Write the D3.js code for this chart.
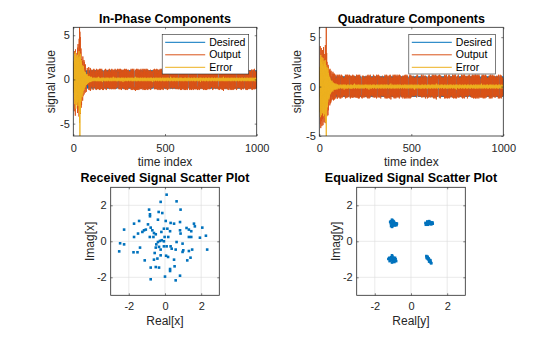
<!DOCTYPE html>
<html>
<head>
<meta charset="utf-8">
<script src="https://cdn.jsdelivr.net/npm/d3@7"></script>
<style>
  body { margin: 0; background: #fff; }
  text { font-family: "Liberation Sans", Arial, Helvetica, sans-serif; fill: #262626; }
</style>
</head>
<body>
<svg id="fig" width="560" height="337"></svg>
<script>
// ---- data ----
const timeDomain = [0, 1000]
const timeTicks = [0, 500, 1000]
const valueTicks = [-5, 0, 5]
const scatterDomain = [-3, 3]
const scatterTicks = [-2, 0, 2]
const legendNames = ['Desired', 'Output', 'Error']

// desired QPSK symbols, one character per time index (+ = +1, - = -1)
const desiredI = [
  '+-++-+--+- -++-+-+--+ +--+++-+-- -+-++--+-+ ++-+--+-++ -+--+-++-+ +-+--++-+- --+-+++-+- +-++--+-+- -+-+--+++-',
  '+--+-++-+- ++++++-+-- +-+--+-++- -+-+-++--+ +-+--+-+-+ --+-++-+-- +------+-+ +-+-++--+- -+--+-+-++ -+-++-+--+',
  '-+-+--++-+ +-+-+--+-+ -++-+--+-- +-++-+-+-+ +++++++--+ -+-+--+-++ -+--+-++-+ -+-+-+--+- +--+-+-++- +-+-+-+--+',
  '++-+--+-+- -+-++-+--+ +-+--+-+-+ -------+-+ +-+-++-+-- -+-+--+-+- +-++-+--+- +-+-+--++- -+-+-+-+-+ +--+-++-+-',
  '-+-++-+--+ +-+--+-+-+ +-+-+-+--+ -+-++++++- +-+--+-+-+ -+--+-+-++ -+-+-+--+- +-++-+--+- +-+-+----- -+-+-++-+-',
  '+-+--+-++- -+-+-+--++ ++++++-+-+ -+--+-+-+- +-++-+--+- +-+-+--+-+ -+-++-+-+- ------+-+- +-+--+-++- -+-+-+-+--',
  '+-++-+--+- +-+-+--+-+ -+-+-+++++ ++-+--+-+- +-+--+-+-+ -++-+--+-+ +-+-+-+--+ -+-------+ +-+-++-+-- -+-+--+-+-',
  '+-+--+-++- -+-+-+--+- ++-+-+-+-- +-++++++-+ -+-+--+-+- +-+-++-+-- -+--+-+-++ -+-+-+--+- +-++-+-+-- ------+-+-',
  '+-+-++-+-- +-+--+-+-+ -+-++-+-+- +--+-+-++- -+-+-+++++ ++-+-+--+- +-+--+-+-+ -++-+-+--+ +-+-+----- --+-+-++-+',
  '-+-+--+-++ -+-++-+--+ +-+-+-+--+ -++++++-+- +-+--+-+-+ -+-++-+-+- +--+-+-+-+ -+-+-----+ +-+-++-+-- -+-+--+-+-'
]
const desiredQ = [
  '-+-++-+--+ +-+--++-+- --+-+-++-+ +-+--+-+-+ -++-+--+-+ +-+-++-+-- -+-+--+-++ +--+-+-+-+ -+-++-+--+ +-+-+--+-+',
  '-+-+-++-+- +-+------+ -+-++-+-+- +--+-+-++- -+-+-+--+- +-++-+-+-+ ++++++-+-- +-+--+-+-+ -+-+-++-+- +-+-+--+-+',
  '-+-++-+-+- +-+--+-+-+ -+-+-+---- ---+-+-++- +-+-+--+-+ -+-++-+--+ +-+-+-+-+- -+--+-++-+ +-+-+--+-+ -+-++-+-+-',
  '+-+--+-+-+ -+-++++++- +-+-+--+-+ -+--+-+-+- +-++-+--+- +-+-+-+--+ -+-+-++-+- -------+-+ +-+-++-+-- -+-+-+--+-',
  '+-+-++-+-+ -+--+-+-+- +-+-+-++-+ -+-+-+++++ ++-+--+-+- +-+--+-+-+ -+-+-++-+- +-+--+-+-+ -+-------+ +-+-+-++-+',
  '-+-+--+-++ -+-+-+--+- +-++-+-+-+ ++++++-+-- +-+-+--+-+ -+-++-+-+- +--+-+-+-+ -+-+-+--++ -+-+------ -+-++-+-+-',
  '+-+--+-+-+ -+-++-+-+- +-+-+--+-+ -++-+-+-+- +-+-++++++ +-+--+-+-+ -+-+-++-+- +--+-+-+-+ -+-+-+--+- +-+------+',
  '-+-++-+-+- +-+--+-+-+ -+-+-++-+- +-+-+--+-+ -------+-+ +-+-++-+-- -+-+--+-+- +-++-+-+-+ -+-+-+--+- +-+-++-+-+',
  '-+-+--+-+- +++++++-+- +-+-+--+-+ -+-++-+-+- +-+--+-+-+ -+-+-+--+- +-+-++-+-+ -+-+------ +-+-+-++-+ -+-+-+--+-',
  '+-++-+-+-+ -+-+--+-+- +-+-++-+-+ -+-+-+--+- ++++++-+-+ -+-+-+--+- +-++-+-+-+ -+-+-+---- --+-+-++-+ -+-+-+--+-'
]

// equalizer error, time index 1..100 (start-up transient)
const errorStartI = [
  0.8, -1.5, 2.1, -0.9, 2.6, -2.2, 1.4, -2.8, 2.9, -1.7,
  3.1, -2.4, 1.9, -3.3, 2.7, -1.2, 2.4, -2.9, 1.6, -2.0,
  2.3, -1.4, 2.8, -2.6, 1.1, -3.0, 2.5, -1.8, 2.0, -2.3,
  3.2, -3.6, 1.8, -4.9, 2.6, -6.4, 1.5, -3.8, 2.9, -2.1,
  1.7, -2.5, 2.2, -1.3, 1.9, -1.8, 1.2, -2.0, 1.6, -1.1,
  1.4, -1.6, 0.9, -1.3, 1.5, -0.8, 1.1, -1.2, 0.7, -1.0,
  0.9, -0.6, 0.8, -0.9, 0.5, -0.7, 0.8, -0.5, 0.6, -0.6,
  0.4, -0.6, 0.5, -0.4, 0.6, -0.3, 0.4, -0.5, 0.3, -0.4,
  0.4, -0.3, 0.3, -0.4, 0.2, -0.3, 0.4, -0.2, 0.3, -0.3,
  0.2, -0.3, 0.3, -0.2, 0.2, -0.3, 0.2, -0.1, 0.3, -0.2
]
const errorStartQ = [
  -1.2, 2.0, -2.6, 1.5, -3.1, 2.8, -1.9, 3.2, -2.4, 1.3,
  -2.9, 2.5, -1.6, 3.0, -2.2, 1.8, -2.7, 2.3, -1.4, 2.9,
  -2.5, 1.7, -3.0, 2.1, -1.8, 2.6, -2.3, 1.2, -2.8, 2.4,
  -1.5, 2.7, -3.2, 1.9, -3.6, 2.2, -2.6, -5.0, 1.6, -2.4,
  2.0, -1.5, 1.7, -2.1, 1.3, -1.6, 1.9, -1.2, 1.4, -1.0,
  1.2, -1.3, 0.8, -1.1, 1.0, -0.7, 0.9, -0.8, 0.6, -0.7,
  0.7, -0.5, 0.6, -0.6, 0.4, -0.5, 0.5, -0.4, 0.6, -0.3,
  0.4, -0.4, 0.3, -0.5, 0.3, -0.3, 0.4, -0.2, 0.3, -0.3,
  0.2, -0.3, 0.3, -0.2, 0.3, -0.2, 0.2, -0.3, 0.2, -0.2,
  0.3, -0.2, 0.2, -0.2, 0.1, -0.3, 0.2, -0.2, 0.2, -0.1
]
// equalizer error after convergence, time index 101..1000, in tenths
const errorTenthsI = [
  '2 -1 0 1 -2 1 -1 2 0 -1 1 -2 2 -1 0 1 -1 2 -2 1 0 -1 1 -1 2 -2 0 1 -1 1 -2 2 0 -1 1 -1 3 -2 1 0 -1 1 -2 2 -1 0 1 -2 1 -1',
  '1 -1 2 0 -2 1 -1 1 -3 2 0 -1 1 -1 2 -1 0 1 -2 1 -1 0 2 -1 1 -2 1 0 -1 2 -1 1 -2 0 1 -1 2 -2 1 -1 0 1 -1 2 -1 0 -2 1 1 -1',
  '0 1 -1 2 -2 1 -1 0 1 -2 2 -1 1 0 -1 1 -2 3 -1 0 1 -1 2 -1 0 -1 1 -2 1 0 2 -1 1 -1 -2 1 0 1 -1 2 -2 1 -1 1 0 -1 2 -1 1 -2',
  '1 -1 0 2 -1 1 -2 1 -1 0 1 -1 2 -2 1 0 -1 1 -1 2 -3 1 0 -1 1 2 -1 0 -2 1 -1 1 0 -1 2 -1 1 -2 0 1 -1 1 -1 2 0 -2 1 -1 1 0',
  '-1 2 -1 1 0 -2 1 -1 2 -1 0 1 -1 1 -2 2 0 -1 1 -1 1 0 -2 2 -1 1 -1 0 1 -2 1 -1 2 0 -1 1 -2 1 3 -1 0 1 -1 2 -2 1 0 -1 1 -1',
  '2 -2 1 0 -1 1 -1 2 -1 0 1 -2 1 -1 0 2 -1 1 -2 1 0 -1 1 -1 2 -1 0 1 -2 2 -1 1 0 -1 1 -2 1 -1 2 0 -1 1 -1 0 2 -2 1 -1 1 0',
  '1 -2 1 -1 0 2 -1 1 -1 0 1 -2 2 -1 1 0 -1 1 -2 1 -1 2 0 -1 1 -1 2 -2 0 1 -1 1 -3 1 0 -1 2 -1 1 -1 0 1 -2 1 -1 2 0 -1 1 -1',
  '0 2 -1 1 -2 1 -1 0 1 -1 2 -1 0 1 -2 1 -1 2 -1 0 1 -1 1 -2 2 0 -1 1 -1 1 -2 1 0 -1 2 -1 1 -1 0 2 -2 1 -1 1 0 -1 1 -2 2 -1',
  '1 0 -1 1 -2 2 -1 1 0 -1 1 -1 2 -2 1 0 -1 1 -1 2 -1 0 1 -2 1 -1 1 0 -1 3 -2 1 -1 0 1 -1 2 -1 1 -2 0 1 -1 1 -1 2 0 -2 1 -1',
  '2 -1 1 -1 0 1 -2 1 -1 2 0 -1 1 -1 1 -2 2 -1 0 1 -1 1 -2 1 0 -1 2 -1 1 -1 0 1 -2 2 -1 1 0 -1 1 -1 2 -2 1 0 -1 1 -1 1 -2 1',
  '-1 1 0 -2 2 -1 1 -1 0 1 -1 2 -1 1 -2 0 1 -1 1 -1 2 -2 1 0 -1 1 -1 2 -1 0 1 -2 1 -1 2 0 -1 1 -1 1 -2 1 0 -1 2 -1 1 -1 0 1',
  '-2 1 -1 2 0 -1 1 -1 1 -2 2 -1 0 1 -1 1 -2 1 -1 2 0 -1 1 -1 1 -2 2 0 -1 1 -1 1 -2 1 0 -1 2 -1 1 -1 0 1 -3 2 -1 1 0 -1 1 -1',
  '2 -1 0 1 -2 1 -1 1 0 -1 2 -1 1 -2 1 0 -1 1 -1 2 -2 1 0 -1 1 -1 2 -1 0 1 -2 1 -1 1 0 -1 2 -2 1 -1 1 0 -1 2 -1 1 -2 0 1 -1',
  '1 -1 2 -2 1 0 -1 1 -1 2 -1 0 1 -2 1 -1 1 0 -1 2 -1 1 -2 1 0 -1 1 -1 2 -2 1 0 -1 1 -1 2 -1 0 1 -2 1 -1 1 0 -1 2 -1 1 -2 1',
  '0 -1 1 -1 2 -2 1 0 -1 1 -1 2 -1 0 1 -2 1 -1 3 -1 0 1 -2 1 -1 1 0 -1 2 -1 1 -2 1 0 -1 1 -1 2 -2 1 0 -1 1 -1 2 -1 0 1 -2 1',
  '-1 1 0 -1 2 -1 1 -2 1 0 -1 1 -1 2 -2 1 0 -1 1 -1 2 -1 0 1 -2 1 -1 1 0 -1 2 -1 1 -2 1 0 -1 1 -1 2 -2 1 0 -1 1 -1 2 -1 0 1',
  '-2 1 -1 1 0 -1 2 -1 1 -2 1 0 -1 1 -1 2 -2 1 0 -1 1 -1 2 -1 0 1 -2 1 -1 1 0 -1 2 -1 1 -2 1 0 -1 1 -1 2 -2 1 0 -1 1 -1 2 -1',
  '0 1 -2 1 -1 1 0 -1 2 -1 1 -2 1 0 -1 1 -1 2 -2 1 0 -1 1 -1 2 -1 0 1 -2 1 -1 1 0 -1 2 -1 1 -2 1 0 -1 1 -1 2 -2 1 0 -1 1 -1'
]
const errorTenthsQ = [
  '-1 2 -1 0 1 -2 1 -1 1 0 -2 2 -1 1 -1 0 2 -1 1 -2 0 1 -1 2 -1 1 0 -2 1 -1 2 -1 0 1 -3 2 -1 1 0 -1 1 -2 2 -1 0 1 -1 1 -2 1',
  '0 -1 2 -2 1 -1 0 1 -1 2 -1 1 -2 0 1 -1 1 -1 2 -2 1 0 -1 1 -2 2 -1 0 1 -1 1 -2 1 0 -1 2 -1 1 -1 0 3 -2 1 -1 0 1 -1 2 -1 0',
  '1 -2 1 -1 2 0 -1 1 -1 1 -2 2 -1 0 1 -1 2 -1 1 -2 0 1 -1 1 -1 2 -2 0 1 -1 1 -1 2 -1 0 1 -2 1 -1 1 0 -1 2 -2 1 -1 1 0 -1 2',
  '-1 1 0 -1 2 -1 1 -2 1 0 -1 1 -1 2 -2 1 0 -1 1 -3 2 -1 0 1 -1 1 -2 2 -1 0 1 -1 1 -2 1 0 -1 2 -1 1 -1 0 1 -2 2 -1 1 0 -1 1',
  '2 -1 0 1 -2 1 -1 1 0 -1 2 -2 1 -1 1 0 -1 2 -1 1 -2 0 1 -1 2 -1 1 -1 0 1 -2 1 -1 2 0 -1 1 -1 2 -2 1 0 -1 1 -1 2 -1 0 1 -2',
  '1 -1 2 -1 0 1 -2 2 -1 1 0 -1 1 -1 2 -2 1 0 -1 1 -1 2 -1 0 1 -2 1 -1 1 0 -1 2 -1 1 -2 1 0 -1 3 -1 0 1 -2 1 -1 1 0 -1 2 -1',
  '-2 1 0 -1 1 -1 2 -1 1 -2 0 1 -1 1 -1 2 -2 1 0 -1 1 -1 2 -1 0 1 -2 2 -1 1 0 -1 1 -1 2 -2 1 0 -1 1 -1 2 -1 0 1 -2 1 -1 1 0',
  '1 0 -1 2 -1 1 -2 1 0 -1 1 -1 2 -1 0 1 -2 1 -1 2 0 -1 1 -1 1 -2 2 -1 0 1 -1 1 -2 1 0 -1 2 -1 1 -1 0 1 -2 2 -1 1 0 -1 1 -1',
  '-1 2 -2 1 0 -1 1 -1 2 -1 0 1 -2 1 -1 1 0 -3 2 -1 1 -1 0 1 -2 2 -1 0 1 -1 1 -2 1 0 -1 2 -1 1 -1 0 2 -2 1 -1 1 0 -1 1 -2 1',
  '0 1 -1 2 -2 1 -1 0 1 -1 2 -1 1 -2 0 1 -1 1 -1 2 -2 1 0 -1 1 -1 2 -1 0 1 -2 1 -1 1 0 -1 2 -2 1 -1 1 0 -1 2 -1 1 -2 0 1 -1',
  '2 -1 1 -2 1 0 -1 1 -1 2 -1 0 1 -2 2 -1 1 0 -1 1 -1 2 -2 1 0 -1 1 -1 2 -1 0 1 -2 1 -1 3 0 -1 1 -1 2 -2 1 0 -1 1 -1 2 -1 0',
  '-1 1 -2 1 0 -1 2 -1 1 -1 0 1 -2 2 -1 1 0 -1 1 -1 2 -1 0 1 -2 1 -1 1 0 -1 2 -2 1 -1 1 0 -1 2 -1 1 -2 1 0 -1 1 -1 2 -2 1 0',
  '1 -1 1 0 -2 2 -1 1 -1 0 1 -1 2 -2 1 0 -1 1 -1 2 -1 0 1 -2 1 -1 1 0 -1 2 -1 1 -2 1 0 -1 1 -1 2 -2 1 0 -1 1 -3 2 -1 0 1 -1',
  '0 -1 2 -1 1 -2 1 0 -1 1 -1 2 -2 1 0 -1 1 -1 2 -1 0 1 -2 1 -1 1 0 -1 2 -1 1 -2 1 0 -1 1 -1 2 -2 1 0 -1 1 -1 2 -1 0 1 -2 1',
  '-1 1 0 -1 2 -2 1 -1 1 0 -1 2 -1 1 -2 1 0 -1 1 -1 2 -2 1 0 -1 1 -1 2 -1 0 1 -2 1 -1 1 0 -1 2 -1 1 -2 1 0 -1 1 -1 2 -2 1 0',
  '2 -2 1 -1 0 1 -1 2 -1 1 -2 0 1 -1 1 -1 2 -2 1 0 -1 1 -1 2 -1 0 1 -2 1 -1 3 -1 0 1 -2 1 -1 1 0 -1 2 -1 1 -2 1 0 -1 1 -1 2',
  '-1 0 1 -2 1 -1 1 0 -1 2 -1 1 -2 2 0 -1 1 -1 1 -2 1 0 -1 2 -1 1 -1 0 1 -2 2 -1 1 0 -1 1 -1 2 -2 1 0 -1 1 -1 2 -1 0 1 -2 1',
  '1 -1 0 1 -1 2 -2 1 0 -1 1 -1 2 -1 0 1 -2 1 -1 1 0 -1 2 -2 1 -1 1 0 -1 2 -1 1 -2 1 0 -1 1 -1 2 -1 0 1 -2 1 -1 1 0 -1 2 -1'
]

// constellation points
const receivedReal = [0.09, -0.24, 0.64, -0.88, 0.86, -0.83, -0.35, -0.15, -0.39, -1.43, -1.71, 0.04, 0.31, 0.83, 1.6, 1.65, 2.06, -0.94, -0.79, -1.06, -1.16, -1.25, -1.49, -2.26, -1.71, -0.7, -0.61, -0.51, -0.2, -0.06, 0.13, 0.28, 0.83, 0.86, 1.32, 1.45, 1.32, 1.45, 1.93, 2.26, -0.84, -0.64, -0.02, 0.18, -0.39, -0.28, -0.18, -0.06, -0.48, -0.51, -0.33, -0.24, 0.09, 0.31, 0.37, 0.64, 0.97, 0.59, 1.01, 0.97, 1.32, -2.48, -2.26, -2.53, -1.74, -1.52, -1.38, -0.57, -0.24, 0.06, 0.17, -1.12, -0.61, -0.42, 0.5, 1.23, 1.41, 1.5, 2.33, -0.79, -0.51, -0.33, 0.28, 0.28, 0.53, -0.79, 0.0, 0.59, 0.83, -0.06, 0.5, 1.19, -0.83]
const receivedImag = [2.59, 2.19, 2.22, 1.76, 1.76, 1.5, 1.63, 1.57, 1.2, 1.13, 0.98, 1.13, 1.02, 1.07, 0.98, 0.83, 0.76, 0.94, 0.76, 0.65, 0.61, 0.52, 0.43, 0.65, 0.24, 0.61, 0.46, 0.39, 0.52, 0.7, 0.7, 0.56, 0.61, 0.43, 0.65, 0.56, 0.24, 0.24, 0.2, 0.31, 0.24, 0.24, 0.24, 0.24, -0.04, 0.02, 0.06, 0.0, -0.17, -0.35, -0.31, -0.46, -0.28, -0.28, -0.41, -0.04, -0.13, -0.46, -0.5, -0.59, -0.54, -0.11, -0.17, -0.56, -0.61, -0.61, -0.35, -0.65, -0.78, -0.8, -0.87, -1.06, -1.02, -0.96, -1.02, -1.06, -0.91, -0.46, -0.46, -1.46, -1.43, -1.46, -1.54, -1.65, -1.39, -2.11, -1.96, -2.17, -1.91, -0.28, 0.98, 0.74, 1.39]
const equalizedReal = [
  -1.05, -1.1, -1.0, -0.98, -1.12, -1.08, -1.02, -0.95, -0.9, -0.85, -0.8, -0.78, -0.88, -1.05, -1.1, -0.95, -1.15, -0.92, -1.0, -0.82, -1.07, -0.97,
  0.8, 0.85, 0.9, 0.95, 1.0, 1.05, 1.1, 1.15, 1.2, 0.92, 0.98, 1.02, 0.88, 1.08, 0.95, 1.12, 0.82, 1.0, 1.18, 0.9,
  -1.2, -1.25, -1.1, -1.05, -1.0, -0.95, -0.9, -0.85, -1.1, -1.0, -0.92, -1.05, -0.88, -1.15, -0.98, -1.08, -0.82, -1.02, -0.95, -1.18,
  0.85, 0.88, 0.9, 0.92, 0.95, 0.97, 1.0, 1.02, 1.05, 1.08, 1.1, 1.12, 0.98, 1.03, 0.93, 1.07, 0.87, 1.0
]
const equalizedImag = [
  1.2, 1.12, 1.15, 1.05, 1.0, 0.92, 0.85, 0.98, 1.02, 0.95, 0.9, 0.98, 0.88, 0.8, 0.85, 1.1, 1.08, 0.92, 0.95, 1.0, 1.02, 0.9,
  1.02, 0.95, 1.1, 1.05, 1.12, 1.0, 0.98, 1.02, 0.98, 0.95, 0.98, 1.08, 1.0, 1.06, 0.92, 0.94, 0.92, 1.0, 1.05, 1.04,
  -0.92, -0.98, -0.88, -0.78, -0.95, -1.0, -1.08, -1.0, -1.05, -1.12, -1.15, -1.18, -0.92, -1.02, -1.05, -0.98, -1.1, -0.85, -0.92, -1.1,
  -0.82, -0.88, -0.92, -0.86, -0.95, -1.0, -1.02, -1.08, -1.1, -1.15, -1.2, -1.22, -0.96, -1.12, -0.98, -1.05, -0.93, -1.12
]

// ---- styles ----
const colors = ['#0072BD', '#D95319', '#EDB120']
const axisColor = '#262626'
const tickLen = 2

const svg = d3.select('#fig')

function symbols(lines) {
  return lines.join('').replace(/\s/g, '').split('').map(c => (c === '+' ? 1 : -1))
}
function tenths(lines) {
  return lines.join(' ').trim().split(/\s+/).map(v => Number(v) / 10)
}

function styleAxis(g, labelSize) {
  g.select('.domain').remove()
  g.selectAll('line').attr('stroke', axisColor).attr('stroke-width', 0.6)
  g.selectAll('text').attr('font-size', labelSize).attr('font-family', null).attr('fill', axisColor)
}

// axes frame, ticks on all four sides, labels left and bottom
function drawFrame(box, x, y, xTicks, yTicks, pad) {
  const g = svg.append('g')
  const fmt = d => String(d)
  g.append('g').attr('transform', `translate(0,${box.bottom})`)
    .call(d3.axisBottom(x).tickValues(xTicks).tickFormat(fmt).tickSizeInner(-tickLen).tickSizeOuter(0).tickPadding(pad.x))
    .call(s => styleAxis(s, 11))
  g.append('g').attr('transform', `translate(0,${box.top})`)
    .call(d3.axisTop(x).tickValues(xTicks).tickFormat('').tickSizeInner(-tickLen).tickSizeOuter(0))
    .call(s => styleAxis(s, 11))
  g.append('g').attr('transform', `translate(${box.left},0)`)
    .call(d3.axisLeft(y).tickValues(yTicks).tickFormat(fmt).tickSizeInner(-tickLen).tickSizeOuter(0).tickPadding(pad.y))
    .call(s => styleAxis(s, 11))
  g.append('g').attr('transform', `translate(${box.right},0)`)
    .call(d3.axisRight(y).tickValues(yTicks).tickFormat('').tickSizeInner(-tickLen).tickSizeOuter(0))
    .call(s => styleAxis(s, 11))
  g.append('rect')
    .attr('x', box.left).attr('y', box.top)
    .attr('width', box.right - box.left).attr('height', box.bottom - box.top)
    .attr('fill', 'none').attr('stroke', axisColor).attr('stroke-width', 0.8)
}

function drawLabels(box, title, xLabel, yLabel, lab) {
  const cx = (box.left + box.right) / 2
  const cy = (box.top + box.bottom) / 2
  svg.append('text').text(title)
    .attr('x', cx).attr('y', lab.title).attr('text-anchor', 'middle')
    .attr('font-size', 12.5).attr('font-weight', 'bold').style('fill', '#000')
  svg.append('text').text(xLabel)
    .attr('x', cx).attr('y', lab.x).attr('text-anchor', 'middle').attr('font-size', 12)
  svg.append('text').text(yLabel)
    .attr('transform', `translate(${box.left - lab.y},${cy}) rotate(-90)`)
    .attr('text-anchor', 'middle').attr('font-size', 12)
}

function drawTimePanel(id, box, desired, error, title) {
  const n = Math.min(desired.length, error.length)
  const t = d3.range(1, n + 1)
  const output = t.map((d, i) => desired[i] - error[i])
  const series = [desired.slice(0, n), output, error.slice(0, n)]

  const x = d3.scaleLinear().domain(timeDomain).range([box.left, box.right])
  const y = d3.scaleLinear().domain(d3.extent(series.flat())).range([box.bottom, box.top])

  svg.append('clipPath').attr('id', id)
    .append('rect').attr('x', box.left).attr('y', box.top)
    .attr('width', box.right - box.left).attr('height', box.bottom - box.top)

  const line = d3.line().x((d, i) => x(t[i])).y(d => y(d))
  const g = svg.append('g').attr('clip-path', `url(#${id})`)
  series.forEach((s, k) => {
    g.append('path').attr('d', line(s))
      .attr('fill', 'none').attr('stroke', colors[k]).attr('stroke-width', 0.9)
  })

  drawFrame(box, x, y, timeTicks, valueTicks, { x: 8, y: 3.5 })
  drawLabels(box, title, 'time index', 'signal value', { title: 22.5, x: 166, y: 18.8 })

  // legend
  const lg = svg.append('g').attr('transform', `translate(${box.right - 94.5},${box.top + 7})`)
  lg.append('rect').attr('width', 86.5).attr('height', 39.7)
    .attr('fill', '#fff').attr('stroke', axisColor).attr('stroke-width', 0.6)
  legendNames.forEach((name, k) => {
    const ry = 8 + k * 12.5
    lg.append('line').attr('x1', 3).attr('x2', 43).attr('y1', ry).attr('y2', ry)
      .attr('stroke', colors[k]).attr('stroke-width', 1)
    lg.append('text').text(name).attr('x', 47).attr('y', ry + 3.7).attr('font-size', 10.5).style('fill', '#000')
  })
}

function drawScatterPanel(box, re, im, title, xLabel, yLabel) {
  const x = d3.scaleLinear().domain(scatterDomain).range([box.left, box.right])
  const y = d3.scaleLinear().domain(scatterDomain).range([box.bottom, box.top])

  const grid = svg.append('g').attr('stroke', '#dcdcdc').attr('stroke-width', 0.6)
  scatterTicks.forEach(v => {
    grid.append('line').attr('x1', x(v)).attr('x2', x(v)).attr('y1', box.top).attr('y2', box.bottom)
    grid.append('line').attr('y1', y(v)).attr('y2', y(v)).attr('x1', box.left).attr('x2', box.right)
  })

  const s = 2.6
  svg.append('g').selectAll('rect').data(re).join('rect')
    .attr('x', (d, i) => x(d) - s / 2).attr('y', (d, i) => y(im[i]) - s / 2)
    .attr('width', s).attr('height', s).attr('fill', colors[0])

  drawFrame(box, x, y, scatterTicks, scatterTicks, { x: 7, y: 4 })
  drawLabels(box, title, xLabel, yLabel, { title: 182, x: 324.5, y: 16.5 })
}

drawTimePanel('clipI', { left: 73.3, right: 256.7, top: 27.3, bottom: 136 },
  symbols(desiredI), errorStartI.concat(tenths(errorTenthsI)), 'In-Phase Components')
drawTimePanel('clipQ', { left: 319.3, right: 503.3, top: 27.3, bottom: 136 },
  symbols(desiredQ), errorStartQ.concat(tenths(errorTenthsQ)), 'Quadrature Components')

drawScatterPanel({ left: 110.7, right: 219.3, top: 187.3, bottom: 295.3 },
  receivedReal, receivedImag, 'Received Signal Scatter Plot', 'Real[x]', 'Imag[x]')
drawScatterPanel({ left: 356.7, right: 465.3, top: 187.3, bottom: 295.3 },
  equalizedReal, equalizedImag, 'Equalized Signal Scatter Plot', 'Real[y]', 'Imag[y]')
</script>
</body>
</html>
